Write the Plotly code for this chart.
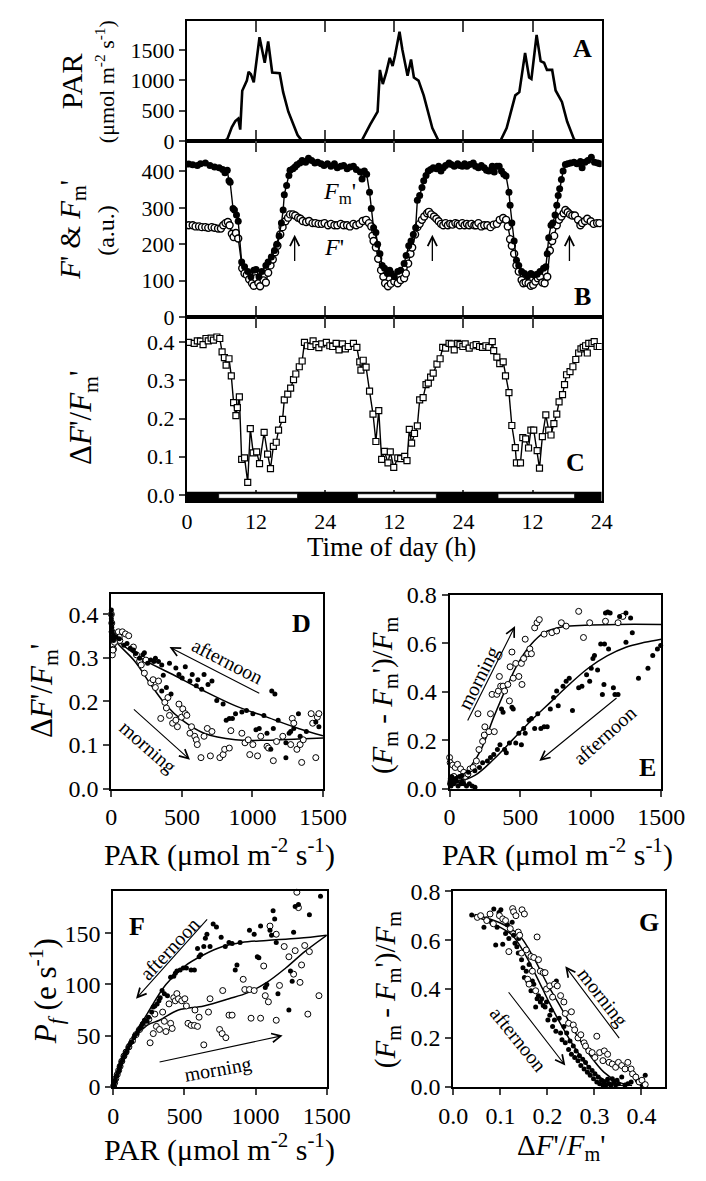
import plotly.graph_objects as go

W, H = 706, 1181
FONT = "Liberation Serif"

# ---------------- Panel A : PAR time course ----------------
par_t = [0, 6.3, 7.0, 7.8, 8.4, 8.9, 9.25, 9.6, 10.4, 10.7, 11.1, 11.6, 12.6, 13.5, 14.1, 14.8, 16.1, 16.7, 17.6,
         18.5, 19.2, 20.0, 30.3, 31.8, 32.8, 33.1, 33.5, 34.0, 34.6, 35.2, 35.7, 36.1, 36.9, 37.4, 38.3, 38.9,
         39.4, 40.2, 41.1, 41.8, 42.6, 43.7, 54.4, 55.5, 57.0, 57.7, 58.7, 59.4, 59.8, 60.7, 61.4, 62.0, 62.5,
         63.4, 64.0, 65.1, 66.0, 67.2, 67.7, 72]
par_v = [0, 0, 30, 230, 330, 370, 190, 830, 995, 1140, 1100, 968, 1710, 1290, 1640, 1130, 1118, 806, 484,
         269, 100, 0, 0, 270, 430, 484, 1172, 940, 1130, 1370, 1237, 1400, 1800, 1505, 1075, 1344,
         1048, 995, 753, 484, 215, 0, 0, 215, 753, 806, 1452, 1048, 1022, 1747, 1317, 1290, 1172,
         1172, 833, 645, 323, 27, 0, 0]

# ---------------- Panel B : F' and Fm' ----------------
fm_t = [0.3, 1.0, 1.8, 2.35, 3.2, 4.0, 4.8, 5.6, 6.2, 6.6, 7.0, 7.3, 7.5, 8.0, 8.25, 8.6, 8.9, 9.5, 10.0, 10.55,
        11.1, 11.6, 12.0, 12.5, 13.0, 13.7, 14.1, 14.65, 15.2, 15.6, 16.0, 16.4, 16.7, 16.9, 17.3, 17.7, 17.9,
        18.4, 18.75, 19.1, 19.6, 20.0, 20.6, 21.1, 21.65, 22.2, 22.7, 23.3, 23.8, 24.4, 25.0, 25.6, 26.1, 26.7,
        27.2, 27.8, 28.3, 28.9, 29.4, 30.1, 30.4, 30.8, 31.2, 31.7, 32.0, 32.4, 32.8, 33.1, 33.5, 33.9, 34.3,
        34.8, 35.2, 35.5, 36.0, 36.6, 37.1, 37.7, 38.05, 38.5, 38.9, 39.3, 39.7, 40.0, 40.4, 40.8, 41.1, 41.5,
        41.9, 42.3, 42.75, 43.3, 43.7, 44.1, 44.5, 44.9, 45.5, 45.9, 46.4, 47.0, 47.35, 47.8, 48.2, 48.6, 49.1,
        49.7, 50.1, 50.6, 51.1, 51.6, 52.0, 52.4, 53.0, 53.35, 53.8, 54.2, 54.6, 55.0, 55.4, 55.9, 56.1, 56.4,
        56.8, 57.2, 57.6, 58.1, 58.6, 59.15, 59.7, 60.2, 60.8, 61.3, 61.9, 62.3, 62.55, 62.8, 63.2, 63.5, 63.9,
        64.2, 64.45, 64.7, 65.0, 65.3, 65.7, 66.1, 66.6, 67.2, 67.7, 68.3, 68.6, 69.1, 69.6, 70.2, 70.75, 71.3,
        71.7]
fm_v = [420, 418, 416, 421, 423, 416, 412, 410, 405, 396, 403, 374, 370, 298, 294, 280, 263, 151, 138, 125,
        111, 129, 131, 111, 125, 142, 151, 165, 183, 200, 223, 258, 294, 336, 361, 389, 403,
        407, 412, 418, 423, 430, 425, 436, 430, 423, 425, 421, 416, 421, 414, 421, 410, 414,
        416, 407, 412, 414, 405, 398, 379, 401, 392, 343, 298, 245, 232, 200, 174, 142, 134,
        120, 129, 120, 111, 125, 129, 147, 169, 196, 209, 227, 245, 321, 334, 356, 374, 389,
        401, 405, 410, 407, 414, 401, 410, 416, 423, 419, 414, 421, 416, 414, 421, 414, 419,
        423, 414, 410, 416, 410, 403, 401, 414, 398, 414, 414, 401, 392, 387, 343, 307, 258,
        209, 156, 142, 125, 120, 113, 120, 116, 118, 125, 134, 138, 174, 218, 252, 258, 280,
        307, 334, 352, 378, 401, 419, 421, 423, 425, 421, 427, 410, 425, 430, 439, 425, 423,
        421]
f_t = [0.3, 1.0, 1.5, 2.1, 2.6, 3.2, 3.7, 4.3, 4.8, 5.4, 5.9, 6.3, 6.7, 7.1, 7.4, 7.8, 8.1, 8.5, 8.9, 9.6,
       10.0, 10.4, 10.8, 11.3, 11.6, 12.0, 12.4, 12.7, 13.3, 13.7, 14.1, 14.5, 14.9, 15.3, 15.7, 16.2, 16.6,
       17.1, 17.55, 17.9, 18.4, 18.8, 19.3, 19.7, 20.1, 20.7, 21.2, 21.8, 22.3, 22.85, 23.4, 23.9, 24.5, 25.0,
       25.6, 26.1, 26.7, 27.2, 27.8, 28.3, 28.9, 29.4, 29.96, 30.5, 31.1, 31.6, 32.0, 32.2, 32.4, 32.8, 33.2,
       33.7, 34.1, 34.4, 34.9, 35.4, 36.0, 36.6, 37.1, 37.7, 38.0, 38.4, 38.8, 39.1, 39.6, 40.0, 40.4, 40.8,
       41.2, 41.7, 42.0, 42.4, 42.9, 43.3, 43.7, 44.1, 44.5, 44.9, 45.3, 45.7, 46.1, 46.6, 47.0, 47.35, 47.8,
       48.2, 48.6, 49.0, 49.4, 49.9, 50.2, 50.6, 51.1, 51.6, 52.15, 52.7, 53.25, 53.8, 54.3, 54.9, 55.4, 55.7,
       56.1, 56.4, 56.8, 57.2, 57.6, 58.1, 58.4, 58.8, 59.3, 59.7, 60.1, 60.5, 60.9, 61.3, 61.7, 62.1, 62.55,
       63.0, 63.4, 63.75, 64.2, 64.6, 65.0, 65.4, 65.7, 66.1, 66.5, 66.9, 67.35, 67.9, 68.3, 68.6, 69.1, 69.5,
       70.1, 70.6, 71.2, 71.6]
f_v = [252, 252, 249, 249, 247, 247, 245, 247, 245, 243, 243, 252, 258, 261, 252, 229, 220, 231, 216, 134,
       120, 116, 104, 93, 86, 107, 93, 85, 101, 95, 122, 142, 158, 178, 196, 227, 247,
       263, 273, 282, 282, 279, 273, 270, 264, 261, 264, 258, 258, 256, 256, 258, 252, 256,
       252, 252, 256, 252, 252, 249, 256, 252, 256, 264, 267, 258, 249, 223, 209, 191, 160,
       129, 111, 93, 85, 92, 98, 93, 102, 107, 120, 147, 174, 191, 227, 247, 256, 267,
       276, 285, 289, 282, 276, 270, 263, 256, 252, 258, 252, 256, 254, 258, 256, 252, 258,
       252, 256, 252, 256, 252, 252, 258, 249, 252, 252, 247, 254, 256, 267, 272, 267, 249,
       214, 196, 174, 142, 125, 102, 93, 95, 93, 86, 89, 98, 107, 111, 95, 93, 111,
       183, 209, 223, 252, 267, 276, 285, 294, 288, 282, 279, 279, 267, 252, 258, 264, 270,
       263, 256, 258, 258]

# ---------------- Panel C : dF'/Fm' ----------------
c_t = [0.3, 1.26, 1.8, 2.35, 2.8, 3.3, 3.7, 4.2, 4.6, 5.2, 5.7, 6.1, 6.5, 6.8, 7.3, 7.7, 8.1, 8.5, 8.75, 9.1,
       9.5, 10.0, 10.55, 11.0, 11.5, 12.1, 12.6, 13.4, 14.0, 14.5, 15.0, 15.5, 15.9, 16.6, 16.9, 17.5, 18.0,
       18.5, 18.9, 19.5, 20.0, 20.4, 20.9, 21.5, 21.9, 22.4, 22.9, 23.4, 24.2, 24.8, 25.3, 25.9, 26.4, 27.0,
       27.5, 28.0, 28.9, 29.5, 30.0, 30.2, 30.6, 31.1, 31.7, 32.3, 32.8, 33.3, 33.8, 34.3, 34.9, 35.3, 35.9,
       36.6, 37.1, 37.8, 38.2, 38.6, 39.0, 39.5, 40.0, 40.4, 41.0, 41.5, 41.9, 42.3, 42.75, 43.4, 43.95, 44.4,
       44.9, 45.5, 45.9, 46.4, 47.0, 47.4, 47.9, 48.3, 49.0, 49.7, 50.2, 50.8, 51.3, 51.9, 52.4, 53.0, 53.25,
       53.8, 54.3, 54.9, 55.3, 55.9, 56.4, 57.0, 57.2, 57.9, 58.3, 58.8, 59.3, 59.7, 60.2, 60.8, 61.2, 61.7,
       62.3, 62.8, 63.2, 63.7, 64.2, 64.6, 65.2, 65.55, 65.9, 66.5, 67.0, 67.5, 68.0, 68.4, 68.8, 69.2, 69.5,
       69.75, 70.3, 70.7, 71.2, 71.6]
c_v = [0.400, 0.397, 0.404, 0.403, 0.394, 0.410, 0.404, 0.411, 0.406, 0.414, 0.410, 0.375, 0.360, 0.340,
       0.357, 0.312, 0.242, 0.208, 0.229, 0.257, 0.093, 0.097, 0.033, 0.174, 0.110, 0.113, 0.082, 0.164,
       0.107, 0.069, 0.127, 0.138, 0.170, 0.198, 0.249, 0.264, 0.280, 0.302, 0.317, 0.336, 0.351, 0.400,
       0.391, 0.389, 0.404, 0.394, 0.386, 0.396, 0.400, 0.391, 0.389, 0.397, 0.380, 0.396, 0.383, 0.389,
       0.397, 0.387, 0.349, 0.327, 0.353, 0.335, 0.272, 0.212, 0.140, 0.221, 0.093, 0.114, 0.084, 0.113,
       0.072, 0.097, 0.095, 0.101, 0.090, 0.172, 0.136, 0.161, 0.181, 0.249, 0.255, 0.289, 0.293, 0.309,
       0.319, 0.343, 0.357, 0.387, 0.385, 0.397, 0.396, 0.380, 0.397, 0.394, 0.389, 0.396, 0.385, 0.391,
       0.394, 0.389, 0.387, 0.391, 0.387, 0.402, 0.378, 0.361, 0.344, 0.349, 0.312, 0.268, 0.182, 0.124,
       0.084, 0.084, 0.150, 0.147, 0.123, 0.170, 0.170, 0.116, 0.070, 0.153, 0.210, 0.170, 0.157, 0.187,
       0.212, 0.244, 0.263, 0.289, 0.315, 0.323, 0.336, 0.355, 0.372, 0.383, 0.387, 0.391, 0.372, 0.397,
       0.397, 0.402, 0.389, 0.389]

time_ticks = [0, 12, 24, 36, 48, 60, 72]
time_labels = ["0", "12", "24", "12", "24", "12", "24"]
# light periods of the day/night bar (h)
light_start = [5.5, 29.6, 54.0]
light_end = [19.2, 43.3, 67.3]
arrow_t = [18.7, 42.6, 66.4]

# ---------------- Panel D ----------------
d_m_x = [0, 3, 5, 8, 12, 15, 30, 40, 50, 60, 7, 11, 22, 56, 78, 100, 123, 156, 178, 200, 212, 234, 245, 279, 296,
         312, 334, 350, 379, 390, 401, 412, 434, 457, 468, 479, 497, 506, 524, 535, 557, 568, 591, 602, 609, 635,
         657, 680, 702, 713, 769, 792, 803, 836, 847, 925, 947, 970, 981, 1003, 1036, 1059, 1103, 1114, 1148,
         1171, 1215, 1271, 1282, 1293, 1315, 1338, 1349, 1360, 1416, 1427, 1449, 1460, 1471]
d_m_y = [0.40, 0.38, 0.36, 0.35, 0.33, 0.32, 0.34, 0.35, 0.36, 0.34, 0.307, 0.318, 0.336, 0.348, 0.36, 0.355,
         0.351, 0.325, 0.307, 0.293, 0.284, 0.265, 0.295, 0.243, 0.25, 0.232, 0.247, 0.161, 0.198, 0.185, 0.209,
         0.168, 0.15, 0.157, 0.142, 0.194, 0.164, 0.183, 0.172, 0.168, 0.127, 0.142, 0.12, 0.112, 0.101, 0.071,
         0.12, 0.138, 0.075, 0.131, 0.071, 0.078, 0.09, 0.093, 0.133, 0.127, 0.105, 0.112, 0.078, 0.101, 0.075,
         0.12, 0.097, 0.093, 0.064, 0.108, 0.12, 0.101, 0.161, 0.15, 0.09, 0.101, 0.06, 0.112, 0.172, 0.15,
         0.071, 0.164, 0.172]
d_a_x = [0, 0, 0, 2, 3, 5, 8, 10, 15, 20, 34, 56, 89, 111, 134, 156, 172, 200, 223, 234, 257, 279, 301, 312, 334,
         357, 368, 357, 390, 412, 423, 457, 479, 502, 524, 557, 573, 602, 613, 640, 657, 685, 713, 747, 792, 814,
         836, 858, 880, 925, 958, 1003, 1025, 1048, 1081, 1103, 1130, 1137, 1148, 1159, 1182, 1237, 1237, 1260,
         1271, 1293, 1326, 1338, 1382, 1449, 1471]
d_a_y = [0.41, 0.40, 0.39, 0.38, 0.37, 0.36, 0.35, 0.345, 0.34, 0.35, 0.348, 0.344, 0.329, 0.333, 0.322, 0.318,
         0.31, 0.299, 0.307, 0.312, 0.288, 0.295, 0.292, 0.299, 0.292, 0.284, 0.26, 0.224, 0.232, 0.288, 0.217,
         0.277, 0.262, 0.254, 0.28, 0.247, 0.262, 0.236, 0.25, 0.228, 0.262, 0.239, 0.247, 0.202, 0.194, 0.157,
         0.161, 0.161, 0.172, 0.176, 0.179, 0.172, 0.135, 0.138, 0.168, 0.127, 0.09, 0.224, 0.138, 0.217, 0.157,
         0.105, 0.071, 0.127, 0.131, 0.138, 0.172, 0.12, 0.131, 0.153, 0.142]
d_fit_a_x = [0, 212, 435, 658, 880, 1103, 1326, 1500]
d_fit_a_y = [0.35, 0.299, 0.262, 0.224, 0.19, 0.164, 0.138, 0.121]
d_fit_m_x = [0, 56, 167, 279, 390, 502, 657, 880, 1103, 1326, 1500]
d_fit_m_y = [0.35, 0.329, 0.292, 0.239, 0.191, 0.157, 0.127, 0.112, 0.111, 0.114, 0.116]

# ---------------- Panel E ----------------
e_m_x = [0, 4, 22, 40, 56, 78, 100, 123, 145, 167, 190, 208, 201, 234, 246, 250, 279, 290, 301, 317, 335, 346,
         353, 362, 379, 390, 413, 424, 429, 442, 451, 469, 491, 509, 513, 525, 536, 554, 569, 580, 603, 620, 636,
         670, 725, 759, 792, 826, 915, 949, 993, 1105, 1194, 1228, 10, 30, 60, 90, 110, 130]
e_m_y = [0.128, 0.107, 0.097, 0.087, 0.1, 0.081, 0.067, 0.056, 0.081, 0.087, 0.114, 0.161, 0.309, 0.195, 0.221,
         0.255, 0.235, 0.309, 0.389, 0.235, 0.389, 0.403, 0.463, 0.423, 0.423, 0.403, 0.43, 0.362, 0.503, 0.564,
         0.456, 0.517, 0.463, 0.517, 0.43, 0.537, 0.617, 0.557, 0.577, 0.557, 0.664, 0.685, 0.698, 0.638, 0.644,
         0.651, 0.685, 0.671, 0.732, 0.624, 0.685, 0.691, 0.685, 0.711, 0.03, 0.05, 0.04, 0.03, 0.05, 0.06]
e_a_x = [0, 5, 10, 15, 20, 30, 40, 50, 60, 70, 80, 90, 100, 120, 140, 160, 180,
         22, 45, 89, 134, 179, 212, 234, 268, 290, 313, 339, 357, 368, 379, 390, 402, 424, 442, 451, 469, 491,
         509, 525, 536, 563, 580, 603, 625, 647, 670, 692, 714, 737, 759, 770, 804, 826, 848, 871, 915, 938, 971,
         993, 1004, 1016, 1027, 1049, 1071, 1083, 1094, 1098, 1105, 1121, 1127, 1138, 1161, 1172, 1194, 1205,
         1250, 1250, 1283, 1295, 1339, 1406, 1440, 1473, 1496]
e_a_y = [0.02, 0.04, 0.01, 0.05, 0.03, 0.02, 0.04, 0.03, 0.01, 0.05, 0.02, 0.03, 0.02, 0.01, 0.02, 0.01, 0.005,
         0.027, 0.04, 0.054, 0.067, 0.074, 0.087, 0.107, 0.114, 0.128, 0.141, 0.161, 0.181, 0.329, 0.315, 0.161,
         0.148, 0.188, 0.336, 0.329, 0.188, 0.228, 0.181, 0.248, 0.228, 0.282, 0.289, 0.248, 0.309, 0.248, 0.255,
         0.255, 0.329, 0.376, 0.403, 0.342, 0.423, 0.443, 0.456, 0.322, 0.416, 0.423, 0.47, 0.443, 0.497, 0.537,
         0.55, 0.49, 0.597, 0.389, 0.43, 0.597, 0.725, 0.729, 0.577, 0.725, 0.416, 0.389, 0.389, 0.711, 0.725,
         0.604, 0.705, 0.644, 0.456, 0.497, 0.55, 0.577, 0.591]
e_fit_m_x = [22, 134, 223, 313, 402, 491, 580, 670, 804, 960, 1183, 1500]
e_fit_m_y = [0.027, 0.081, 0.161, 0.295, 0.416, 0.523, 0.597, 0.644, 0.668, 0.675, 0.678, 0.678]
e_fit_a_x = [22, 179, 313, 446, 580, 714, 848, 982, 1116, 1250, 1384, 1500]
e_fit_a_y = [0.02, 0.054, 0.121, 0.201, 0.282, 0.356, 0.43, 0.497, 0.548, 0.584, 0.604, 0.617]

# ---------------- Panel F ----------------
f_a_x = [0, 11, 20, 33, 44, 55, 71, 86, 104, 122, 144, 166, 188, 204, 219, 237, 248, 270, 281, 292, 308, 321, 330,
         343, 359, 381, 403, 425, 436, 447, 470, 492, 514, 547, 570, 592, 603, 614, 636, 647, 658, 680, 702, 725,
         758, 787, 813, 835, 857, 869, 891, 957, 990, 1012, 1023, 1035, 1068, 1079, 1101, 1112, 1123, 1134, 1145,
         1157, 1234, 1245, 1257, 1267, 1278, 1301, 1378, 1456,
         5, 15, 25, 40, 50, 65, 80, 95, 115, 130, 150, 175, 195, 210]
f_a_y = [0, 5, 10, 14, 19, 24, 29, 33, 38, 43, 48, 52, 57, 61, 65, 64, 68, 73, 78, 79, 81, 84, 87,
         94, 91, 89, 107, 108, 111, 113, 114, 116, 116, 114, 114, 135, 127, 129, 137, 145, 149, 137, 159, 156,
         146, 137, 141, 140, 114, 119, 141, 153, 149, 127, 126, 157, 97, 100, 153, 148, 172, 164, 141,
         91, 75, 113, 103, 151, 176, 178, 168, 186,
         2, 7, 11, 16, 21, 26, 31, 35, 41, 44, 50, 55, 59, 62]
f_m_x = [259, 281, 292, 303, 325, 347, 359, 370, 392, 403, 414, 425, 436, 447, 458, 481, 503, 514, 525, 547, 570,
         574, 592, 603, 636, 669, 680, 747, 765, 791, 813, 835, 769, 913, 924, 957, 990, 968, 1035, 1057, 1068,
         1090, 1101, 1145, 1145, 1168, 1201, 1234, 1267, 1278, 1290, 1301, 1312, 1323, 1345, 1367, 1378, 1445,
         3, 10, 18, 28, 38, 48, 60, 75, 90, 110, 135, 160, 185, 210, 230, 250]
f_m_y = [43, 52, 71, 59, 56, 73, 64, 54, 81, 62, 57, 87, 84, 91, 86, 84, 86, 79, 62, 60, 60,
         75, 59, 68, 41, 73, 86, 56, 52, 48, 70, 70, 94, 105, 95, 95, 94, 67, 67, 118, 89,
         83, 157, 149, 65, 99, 137, 127, 110, 133, 190, 175, 102, 119, 138, 71, 132, 89,
         1, 4, 8, 12, 16, 20, 25, 30, 34, 39, 45, 51, 56, 61, 63, 66]
f_fit_a_x = [0, 104, 237, 370, 503, 636, 769, 902, 1079, 1301, 1500]
f_fit_a_y = [0, 38, 71, 100, 118, 129, 137, 141, 143, 145, 148]
f_fit_m_x = [0, 104, 237, 325, 458, 636, 813, 946, 1079, 1212, 1345, 1500]
f_fit_m_y = [0, 38, 60, 65, 75, 79, 86, 92, 102, 116, 132, 148]

# ---------------- Panel G ----------------
g_a_x = [0.039, 0.065, 0.071, 0.081, 0.086, 0.09, 0.093, 0.097, 0.101, 0.105, 0.111, 0.115, 0.118, 0.121, 0.125,
         0.128, 0.131, 0.135, 0.138, 0.139, 0.145, 0.148, 0.15, 0.151, 0.155, 0.158, 0.161, 0.165, 0.168, 0.171,
         0.175, 0.178, 0.181, 0.185, 0.188, 0.191, 0.195, 0.198, 0.201, 0.205, 0.208, 0.211, 0.215, 0.218, 0.219,
         0.225, 0.228, 0.231, 0.235, 0.238, 0.241, 0.245, 0.248, 0.251, 0.255, 0.258, 0.261, 0.265, 0.268, 0.271,
         0.275, 0.278, 0.281, 0.285, 0.288, 0.291, 0.295, 0.298, 0.301, 0.305, 0.308, 0.311, 0.315, 0.318, 0.321,
         0.325, 0.328, 0.331, 0.335, 0.338, 0.341, 0.345, 0.348, 0.351, 0.358, 0.365, 0.371, 0.378, 0.385, 0.391,
         0.401, 0.408]
g_a_y = [0.703, 0.653, 0.687, 0.673, 0.727, 0.58, 0.653, 0.713, 0.724, 0.583, 0.627, 0.663, 0.607, 0.64, 0.673,
         0.62, 0.587, 0.573, 0.547, 0.607, 0.52, 0.487, 0.707, 0.447, 0.473, 0.433, 0.5, 0.393, 0.433, 0.42,
         0.327, 0.36, 0.373, 0.347, 0.36, 0.333, 0.327, 0.347, 0.273, 0.293, 0.313, 0.247, 0.273, 0.227, 0.433,
         0.28, 0.22, 0.193, 0.247, 0.18, 0.22, 0.153, 0.187, 0.133, 0.167, 0.12, 0.147, 0.107, 0.127, 0.087,
         0.113, 0.073, 0.1, 0.06, 0.08, 0.047, 0.067, 0.033, 0.053, 0.02, 0.04, 0.013, 0.027, 0.007, 0.02,
         0.009, 0.031, 0.013, 0.007, 0.033, 0.02, 0.007, 0.027, 0.013, 0.04, 0.007, 0.013, 0.02, 0.047, 0.027,
         0.009, 0.047]
g_m_x = [0.051, 0.058, 0.071, 0.078, 0.085, 0.098, 0.105, 0.111, 0.118, 0.121, 0.126, 0.128, 0.133, 0.138, 0.141,
         0.145, 0.146, 0.151, 0.155, 0.158, 0.161, 0.165, 0.168, 0.171, 0.175, 0.178, 0.181, 0.185, 0.191, 0.195,
         0.198, 0.205, 0.211, 0.215, 0.221, 0.228, 0.235, 0.238, 0.245, 0.251, 0.255, 0.258, 0.265, 0.271, 0.278,
         0.281, 0.288, 0.295, 0.301, 0.305, 0.311, 0.318, 0.321, 0.328, 0.331, 0.338, 0.345, 0.351, 0.358, 0.365,
         0.371, 0.378, 0.381, 0.388, 0.395, 0.401, 0.408]
g_m_y = [0.693, 0.7, 0.68, 0.707, 0.667, 0.7, 0.687, 0.68, 0.553, 0.647, 0.729, 0.716, 0.7, 0.633, 0.62,
         0.547, 0.724, 0.707, 0.56, 0.44, 0.42, 0.533, 0.473, 0.529, 0.393, 0.613, 0.52, 0.473, 0.467, 0.467,
         0.4, 0.413, 0.367, 0.42, 0.413, 0.373, 0.347, 0.3, 0.26, 0.307, 0.253, 0.233, 0.2, 0.213, 0.18,
         0.167, 0.147, 0.14, 0.12, 0.207, 0.14, 0.107, 0.147, 0.133, 0.1, 0.093, 0.08, 0.1, 0.087, 0.073,
         0.1, 0.073, 0.053, 0.04, 0.02, 0.027, 0.009]
g_fit_a_x = [0.039, 0.085, 0.125, 0.151, 0.178, 0.205, 0.231, 0.258, 0.285, 0.311, 0.338, 0.365]
g_fit_a_y = [0.703, 0.667, 0.62, 0.547, 0.447, 0.34, 0.247, 0.16, 0.087, 0.04, 0.013, 0.004]
g_fit_m_x = [0.045, 0.1, 0.14, 0.17, 0.2, 0.23, 0.26, 0.29, 0.32, 0.35, 0.38]
g_fit_m_y = [0.705, 0.67, 0.62, 0.53, 0.42, 0.32, 0.22, 0.13, 0.06, 0.02, 0.005]


# ------------------------------------------------------------------
def dx(a, b):
    return [a / W, b / W]


def dy(top, bottom):
    return [1 - bottom / H, 1 - top / H]


fig = go.Figure()

BLACK = "black"
filled = dict(symbol="circle", size=5, color=BLACK, line=dict(width=0))
opened = dict(symbol="circle", size=6, color="white", line=dict(width=1, color=BLACK))

# A
fig.add_trace(go.Scatter(x=par_t, y=par_v, mode="lines", line=dict(color=BLACK, width=2.6),
                         xaxis="x", yaxis="y"))
# B
fig.add_trace(go.Scatter(x=f_t, y=f_v, mode="lines+markers", line=dict(color=BLACK, width=1.4),
                         marker=dict(symbol="circle", size=7, color="white", line=dict(width=1.4, color=BLACK)),
                         xaxis="x2", yaxis="y2"))
fig.add_trace(go.Scatter(x=fm_t, y=fm_v, mode="lines+markers", line=dict(color=BLACK, width=1.4),
                         marker=dict(symbol="circle", size=7, color=BLACK),
                         xaxis="x2", yaxis="y2"))
# C
fig.add_trace(go.Scatter(x=c_t, y=c_v, mode="lines+markers", line=dict(color=BLACK, width=1.4),
                         marker=dict(symbol="square", size=6, color="white", line=dict(width=1.2, color=BLACK)),
                         xaxis="x3", yaxis="y3"))
# D
for fx, fy in [(d_fit_a_x, d_fit_a_y), (d_fit_m_x, d_fit_m_y)]:
    fig.add_trace(go.Scatter(x=fx, y=fy, mode="lines", line=dict(color=BLACK, width=1.5, shape="spline"),
                             xaxis="x4", yaxis="y4"))
fig.add_trace(go.Scatter(x=d_m_x, y=d_m_y, mode="markers", marker=opened, xaxis="x4", yaxis="y4", cliponaxis=False))
fig.add_trace(go.Scatter(x=d_a_x, y=d_a_y, mode="markers", marker=filled, xaxis="x4", yaxis="y4", cliponaxis=False))
# E
for fx, fy in [(e_fit_m_x, e_fit_m_y), (e_fit_a_x, e_fit_a_y)]:
    fig.add_trace(go.Scatter(x=fx, y=fy, mode="lines", line=dict(color=BLACK, width=1.5, shape="spline"),
                             xaxis="x5", yaxis="y5"))
fig.add_trace(go.Scatter(x=e_m_x, y=e_m_y, mode="markers", marker=opened, xaxis="x5", yaxis="y5", cliponaxis=False))
fig.add_trace(go.Scatter(x=e_a_x, y=e_a_y, mode="markers", marker=filled, xaxis="x5", yaxis="y5", cliponaxis=False))
# F
for fx, fy in [(f_fit_a_x, f_fit_a_y), (f_fit_m_x, f_fit_m_y)]:
    fig.add_trace(go.Scatter(x=fx, y=fy, mode="lines", line=dict(color=BLACK, width=1.5, shape="spline"),
                             xaxis="x6", yaxis="y6"))
fig.add_trace(go.Scatter(x=f_m_x, y=f_m_y, mode="markers", marker=opened, xaxis="x6", yaxis="y6", cliponaxis=False))
fig.add_trace(go.Scatter(x=f_a_x, y=f_a_y, mode="markers", marker=filled, xaxis="x6", yaxis="y6", cliponaxis=False))
# G
for fx, fy in [(g_fit_a_x, g_fit_a_y), (g_fit_m_x, g_fit_m_y)]:
    fig.add_trace(go.Scatter(x=fx, y=fy, mode="lines", line=dict(color=BLACK, width=1.5, shape="spline"),
                             xaxis="x7", yaxis="y7"))
fig.add_trace(go.Scatter(x=g_a_x, y=g_a_y, mode="markers", marker=filled, xaxis="x7", yaxis="y7", cliponaxis=False))
fig.add_trace(go.Scatter(x=g_m_x, y=g_m_y, mode="markers", marker=opened, xaxis="x7", yaxis="y7", cliponaxis=False))

TOPX = dx(182, 621)
TICKF = dict(family=FONT, size=22, color=BLACK)
LOWF = dict(family=FONT, size=24, color=BLACK)
base = dict(showline=True, linecolor=BLACK, linewidth=2, showgrid=False, zeroline=False)

layout = dict(
    width=W, height=H, margin=dict(l=0, r=0, t=0, b=0), showlegend=False,
    plot_bgcolor="white", paper_bgcolor="white", font=dict(family=FONT, color=BLACK),
)
for i, (top, bot) in enumerate([(8, 131), (131, 311), (311, 499)], start=1):
    sx = "" if i == 1 else str(i)
    layout["xaxis" + sx] = dict(base, domain=TOPX, range=[0, 72], tickvals=time_ticks, ticktext=time_labels,
                                ticks="inside", ticklen=11, tickwidth=1.5, mirror="ticks",
                                showticklabels=(i == 3), tickfont=TICKF, anchor="y" + sx)
    layout["yaxis" + sx] = dict(base, domain=dy(top, bot), ticks="outside", ticklen=6, tickwidth=1.5,
                                mirror=True, tickfont=TICKF, anchor="x" + sx)
layout["yaxis"].update(range=[0, 1980], tickvals=[0, 500, 1000, 1500])
layout["yaxis2"].update(range=[0, 483], tickvals=[0, 100, 200, 300, 400])
layout["yaxis3"].update(range=[-0.016, 0.466], tickvals=[0, 0.1, 0.2, 0.3, 0.4], tickformat=".1f")

low = {
    4: ((102, 326), (594, 793), [0, 1500], [0, 500, 1000, 1500], None, [0, 0.447], [0, 0.1, 0.2, 0.3, 0.4], ".1f"),
    5: ((460, 684), (595, 793), [0, 1500], [0, 500, 1000, 1500], None, [0, 0.8], [0, 0.2, 0.4, 0.6, 0.8], ".1f"),
    6: ((104, 330), (898, 1098), [0, 1500], [0, 500, 1000, 1500], None, [0, 191], [0, 50, 100, 150], None),
    7: ((464, 688), (898, 1098), [0, 0.45], [0, 0.1, 0.2, 0.3, 0.4], ".1f", [0, 0.8], [0, 0.2, 0.4, 0.6, 0.8], ".1f"),
}
for k, (xs, ys, xr, xt, xf, yr, yt, yf) in low.items():
    layout["xaxis%d" % k] = dict(base, domain=dx(*xs), range=xr, tickvals=xt, ticks="outside", ticklen=6,
                                 tickwidth=1.5, mirror=True, tickfont=LOWF, anchor="y%d" % k)
    layout["yaxis%d" % k] = dict(base, domain=dy(*ys), range=yr, tickvals=yt, ticks="outside", ticklen=6,
                                 tickwidth=1.5, mirror=True, tickfont=LOWF, anchor="x%d" % k)
    if xf:
        layout["xaxis%d" % k]["tickformat"] = xf
    if yf:
        layout["yaxis%d" % k]["tickformat"] = yf
fig.update_layout(**layout)

# day / night bar in panel C
shapes = [dict(type="rect", xref="x3", yref="y3", x0=0, x1=72, y0=-0.016, y1=0.008,
               fillcolor=BLACK, line=dict(width=0), layer="above")]
for s, e in zip(light_start, light_end):
    shapes.append(dict(type="rect", xref="x3", yref="y3", x0=s, x1=e, y0=-0.009, y1=0.003,
                       fillcolor="white", line=dict(width=0.8, color=BLACK), layer="above"))
fig.update_layout(shapes=shapes)

ann = []


def ptxt(text, px, py, size, angle=0):
    ann.append(dict(text=text, x=px / W, y=1 - py / H, xref="paper", yref="paper", showarrow=False,
                    textangle=angle, font=dict(family=FONT, size=size, color=BLACK), xanchor="center",
                    yanchor="middle"))


def dtxt(text, ax, x, y, size, angle=0, bold=False):
    ann.append(dict(text=("<b>%s</b>" % text) if bold else text, x=x, y=y, xref="x" + ax, yref="y" + ax,
                    showarrow=False, textangle=angle, font=dict(family=FONT, size=size, color=BLACK)))


def arrow(ax, tail, head, w=1.1, size=1.6):
    ann.append(dict(text="", x=head[0], y=head[1], ax=tail[0], ay=tail[1], xref="x" + ax, yref="y" + ax,
                    axref="x" + ax, ayref="y" + ax, showarrow=True, arrowhead=5, arrowsize=size,
                    arrowwidth=w, arrowcolor=BLACK))


# axis titles
ptxt("PAR", 60, 70, 30, -90)
ptxt("(μmol m<sup>-2</sup> s<sup>-1</sup>)", 96, 70, 22, -90)
ptxt("<i>F</i>' & <i>F</i><sub>m</sub>'", 60, 222, 29, -90)
ptxt("(a.u.)", 96, 222, 24, -90)
ptxt("Δ<i>F</i>'/<i>F</i><sub>m</sub>'", 72, 414, 31, -90)
ptxt("Time of day (h)", 399, 546, 27)
ptxt("Δ<i>F</i>'/<i>F</i><sub>m</sub>'", 30, 693, 31, -90)
ptxt("(<i>F</i><sub>m</sub> - <i>F</i><sub>m</sub>')/<i>F</i><sub>m</sub>", 390, 697, 29, -90)
ptxt("<i>P<sub>f</sub></i> (e s<sup>-1</sup>)", 33, 1000, 31, -90)
ptxt("(<i>F</i><sub>m</sub> - <i>F</i><sub>m</sub>')/<i>F</i><sub>m</sub>", 394, 998, 29, -90)
ptxt("PAR (μmol m<sup>-2</sup> s<sup>-1</sup>)", 216, 858, 30)
ptxt("PAR (μmol m<sup>-2</sup> s<sup>-1</sup>)", 574, 858, 30)
ptxt("PAR (μmol m<sup>-2</sup> s<sup>-1</sup>)", 216, 1160, 30)
ptxt("Δ<i>F</i>'/<i>F</i><sub>m</sub>'", 578, 1160, 29)

# panel letters
dtxt("A", "", 68.7, 1530, 26, bold=True)
dtxt("B", "2", 68.7, 58, 26, bold=True)
dtxt("C", "3", 67.5, 0.085, 26, bold=True)
dtxt("D", "4", 1350, 0.378, 26, bold=True)
dtxt("E", "5", 1405, 0.087, 26, bold=True)
dtxt("F", "6", 165, 157, 26, bold=True)
dtxt("G", "7", 0.415, 0.673, 26, bold=True)

# panel B labels and arrows
dtxt("<i>F</i><sub>m</sub>'", "2", 26.5, 340, 24)
dtxt("<i>F</i>'", "2", 25.5, 192, 24)
for t in arrow_t:
    arrow("2", (t, 150), (t, 226), w=1.3, size=1.4)

# D
arrow("4", (1059, 0.217), (412, 0.325))
dtxt("afternoon", "4", 820, 0.292, 20, 27)
arrow("4", (149, 0.185), (557, 0.066))
dtxt("morning", "4", 262, 0.095, 20, 41)
# E
arrow("5", (123, 0.275), (464, 0.671))
dtxt("morning", "5", 205, 0.455, 20, -63)
arrow("5", (1194, 0.379), (636, 0.114))
dtxt("afternoon", "5", 1100, 0.222, 20, -42)
# F
arrow("6", (669, 165), (160, 86))
dtxt("afternoon", "6", 392, 135, 20, -47)
arrow("6", (315, 24), (1190, 50))
dtxt("morning", "6", 736, 17, 20, -10)
# G
arrow("7", (0.115, 0.393), (0.238, 0.087))
dtxt("afternoon", "7", 0.138, 0.195, 20, 51)
arrow("7", (0.355, 0.193), (0.238, 0.493))
dtxt("morning", "7", 0.318, 0.367, 20, 52)

fig.update_layout(annotations=ann)
fig.write_html("out.html", config={"displayModeBar": False},
               post_script="document.body.style.margin='0px';")
